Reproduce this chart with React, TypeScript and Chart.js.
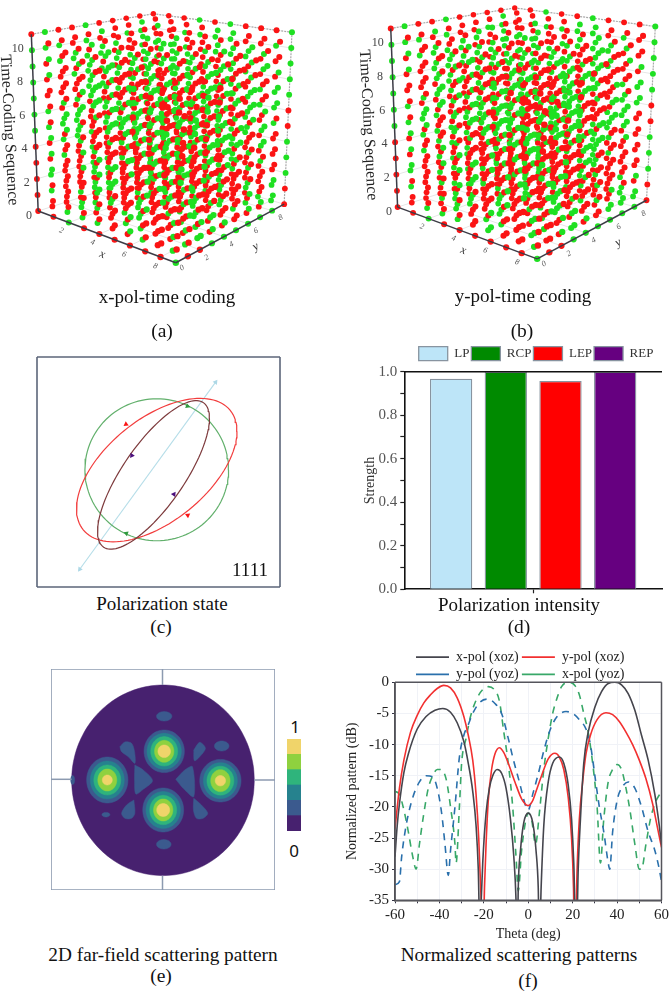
import React, { useEffect, useRef } from "react";
import { Chart, registerables } from "chart.js";

Chart.register(...registerables);

const SERIF = '"Liberation Serif"';

/* ---------- panels (a), (b): time-coding cube ---------- */
const gridX = [0, 1, 2, 3, 4, 5, 6, 7, 8, 9];
const gridY = [0, 1, 2, 3, 4, 5, 6, 7, 8, 9];
const timeSteps = [0, 1, 2, 3, 4, 5, 6, 7, 8, 9, 10, 11];
const timeTicks = [0, 2, 4, 6, 8, 10];
const planeTicks = [2, 4, 6, 8];
// one time sequence per meta-atom; R and G are the two coding states, from t = 0 upward
const timeCodes = [
  "RRRRRGGGGGGR",
  "RRGGGRRGGGGG",
  "GRRRRRGGRRRR",
  "RRRGGGRRRGGR",
  "GGGRRRRGGGRR",
  "RGGRRGGRRRGG",
  "RRRRGGRRGGRR",
  "GGRRRGGGRRGR",
];
const xPolCodeMap = [
  "0326365362",
  "5274102643",
  "3715240375",
  "6402735124",
  "1537062457",
  "4061527302",
  "2643170564",
  "7150634217",
  "3264251734",
  "6405316271",
];
const yPolCodeMap = [
  "0326365362",
  "5247120643",
  "3175240735",
  "6420735214",
  "1357062547",
  "4016527032",
  "2634170654",
  "7105634127",
  "3246251374",
  "6450316721",
];
const cubeCornersA = {
  bl: [35, 212], bf: [176, 265], br: [287, 205], bb: [166, 170],
  tl: [28, 31], tf: [185, 115], tr: [295, 29], tb: [153, 10],
};
const cubeCornersB = {
  bl: [59, 208], bf: [202, 261], br: [314, 201], bb: [190, 166],
  tl: [52, 25], tf: [210, 110], tr: [323, 23], tb: [179, 4],
};
const darkEdges = [
  [[0, 0, 0], [0, 0, 11]],
  [[0, 0, 0], [9, 0, 0]],
  [[9, 0, 0], [9, 9, 0]],
];
const dashedEdges = [
  [[0, 0, 11], [0, 9, 11]],
  [[0, 9, 11], [9, 9, 11]],
  [[9, 9, 11], [9, 9, 0]],
];
const faintEdges = [
  [[0, 0, 0], [0, 9, 0]], [[0, 9, 0], [9, 9, 0]], [[0, 9, 0], [0, 9, 11]],
  [[0, 0, 2], [0, 9, 2]], [[0, 9, 2], [9, 9, 2]],
  [[0, 0, 4], [0, 9, 4]], [[0, 9, 4], [9, 9, 4]],
  [[0, 0, 6], [0, 9, 6]], [[0, 9, 6], [9, 9, 6]],
  [[0, 0, 8], [0, 9, 8]], [[0, 9, 8], [9, 9, 8]],
  [[0, 0, 10], [0, 9, 10]], [[0, 9, 10], [9, 9, 10]],
  [[2, 0, 0], [2, 9, 0]], [[4, 0, 0], [4, 9, 0]], [[6, 0, 0], [6, 9, 0]], [[8, 0, 0], [8, 9, 0]],
  [[0, 2, 0], [9, 2, 0]], [[0, 4, 0], [9, 4, 0]], [[0, 6, 0], [9, 6, 0]], [[0, 8, 0], [9, 8, 0]],
];

/* ---------- panel (c): polarization ellipses ---------- */
const ellipseNames = ["RCP", "LEP", "REP"];
const ellipseColors = ["#62b06c", "#f23c3c", "#7d3a3c"];
const ellipseCenterX = [0, 0, -0.045];
const ellipseCenterY = [0, -0.005, -0.072];
const ellipseAmpX = [1, 1.117, 0.779];
const ellipseAmpY = [0.99, 1.0, 1.036];
const ellipsePhaseDeg = [90, 57.3, 40.4];
const lpLineX = [-1.072, 0.82];
const lpLineY = [-1.387, 1.221];
const lpRotation = [216, 36];
const rcpArrowX = [0.428, -0.423];
const rcpArrowY = [0.887, -0.887];
const rcpRotation = [110, 290];
const lepArrowX = [-0.428, 0.432];
const lepArrowY = [0.635, -0.635];
const lepRotation = [235, 55];
const repArrowX = [-0.347, 0.239];
const repArrowY = [0.198, -0.342];
const repRotation = [215, 35];

/* ---------- panel (d): polarization strength ---------- */
const strengthNames = ["LP", "RCP", "LEP", "REP"];
const strengthValues = [0.968, 1.0, 0.957, 1.0];
const strengthColors = ["#bde5f8", "#008a00", "#ff0000", "#660080"];

/* ---------- panel (e): far-field contour levels ---------- */
const levelColors = ["#47216f", "#3b5a8e", "#26828e", "#2fb47c", "#8fd13f", "#f0d46a"];
const levelBounds = [1, 1, 1, 1, 1, 1];
const discShape = { x: 0.5, y: -0.3, rx: 91.5, ry: 95.3 };
const islandEllipses = [
  [1.7, 63.7, 7.7, 4.7],
  [59.3, 34, 7.3, 5],
  [-56.7, -34.7, 4, 2.3],
  [1.3, -64.3, 7.3, 4.7],
  [-90, 0, 2, 4.5],
];
const islandPolygons = [
  [[-42.7, 33.3], [-37.7, 38], [-31, 36.7], [-28, 28.3], [-27.7, 16.7], [-34.3, 23.3], [-41, 28.3]],
  [[31.3, 30], [37.3, 37.7], [43, 31.7], [37.3, 23.3], [32, 19.3]],
  [[-27.7, 15], [-19.3, 10], [-10, -0.7], [-19.3, -9.3], [-26.7, -14], [-28, 0]],
  [[13.3, 0.7], [22.3, 10], [30, 13.3], [31.3, -16.7], [20.7, -8.3]],
  [[31.3, -18.3], [39, -25], [45.3, -33.3], [40.7, -38.3], [34, -38.3], [31, -30]],
  [[-28.7, -20], [-27.7, -33.3], [-31, -38.3], [-37.7, -38.3], [-41, -33.3], [-36, -25]],
];
const lobeCenterX = [1.7, -55.3, 58, 0.7];
const lobeCenterY = [28.7, 0, -0.7, -30];
const lobeRadiiX = [
  [20.2, 17.2, 13.5, 9.7, 6.3],
  [20.7, 17, 13.5, 9.5, 5],
  [20.7, 17, 13.5, 9.7, 5.2],
  [20.5, 17.2, 13.5, 9.7, 6.5],
];
const lobeRadiiY = [
  [21.3, 18, 14.7, 11, 6.3],
  [23, 19, 15, 11, 5],
  [21.3, 18, 14.5, 11, 5.2],
  [22, 18.5, 14.7, 11, 6.5],
];
const frameCrossX = [[0, 0], [0, 0], [-111.7, -91], [91.7, 112.7]];
const frameCrossY = [[111, 95], [-95.7, -110], [0.7, 0.7], [0, 0]];

/* ---------- panel (f): normalized patterns ---------- */
const patternNames = ["x-pol (xoz)", "y-pol (xoz)", "y-pol (yoz)", "x-pol (yoz)"];
const patternColors = ["#45454d", "#f23030", "#2a70ac", "#38a868"];
const thetaBlack = [-60, -59, -58, -56, -54, -50, -46, -42, -38.5, -35, -32, -29, -27, -25, -23.5, -22.5, -21.8, -21.5, -20.5, -19, -17.5, -16, -14, -12, -10, -8, -6.5, -5.5, -5.2, -4.8, -4.5, -3.5, -2, 0, 2, 3.5, 4.5, 4.9, 5.2, 5.8, 7, 9, 11, 14, 16, 18, 19.5, 20.5, 21.4, 21.8, 22.5, 23.5, 25, 27, 30, 33, 36, 39, 42, 45, 48, 51, 54, 57, 59, 60];
const patternBlack = [-28, -23, -19.5, -14.5, -11.5, -7.5, -5.5, -4.5, -4.2, -4.8, -6.5, -9.5, -13, -17.5, -23, -30, -40, -38, -29, -21, -17, -15, -14, -14.6, -17, -22, -28, -35, -40, -40, -33, -27, -22.5, -21, -22.5, -27, -33, -40, -40, -33, -23, -16, -13, -12, -13, -16.5, -22, -29, -40, -40, -30, -22, -13, -8, -4, -1.5, -0.2, 0, -0.4, -1.8, -4.5, -8.5, -12.5, -18, -23, -26];
const thetaRed = [-60, -58, -56, -53, -50, -47, -44, -41, -38, -35, -32, -29, -27, -25, -23.5, -22.3, -21.2, -20.8, -20.2, -19.7, -19, -18, -16.5, -15, -13, -11, -9, -6, -3, 0, 2, 4, 6, 9, 12, 14, 16, 18, 19.5, 20.4, 20.8, 21.3, 22, 23, 24.5, 26, 28, 31, 35, 38, 41, 44, 47, 50, 53, 56, 58, 60];
const patternRed = [-23.5, -17, -12.5, -8, -5.3, -3.3, -2, -1, -0.5, -0.9, -2.5, -5.5, -8.5, -12.5, -18, -25, -35, -40, -40, -33, -26, -19, -14, -11.5, -10.5, -11.3, -13, -16, -18.7, -19.8, -19, -17, -15, -12.3, -11.4, -12, -14, -18.5, -25, -33, -40, -40, -30, -22, -16, -11.5, -8.5, -6, -4.9, -5.2, -6.3, -8, -10, -12.5, -15.5, -19.5, -23, -26.5];
const thetaBlue = [-60, -58, -57, -55, -52, -49, -46, -43, -41, -39, -37.5, -36, -35, -33, -31, -29, -27, -25, -22, -18.5, -15, -12, -9, -7, -4, -1, 0, 2, 5, 7, 10, 13, 17, 20, 23, 26, 28, 30, 32, 34, 36, 36.7, 38, 40, 42, 45, 48, 51, 54, 57, 59, 60];
const patternBlue = [-32.5, -32, -28, -23, -18.5, -16, -15, -15.2, -17, -21, -26, -31, -27, -20, -12, -8.5, -6.8, -5, -3.3, -2.7, -3.4, -5, -9, -12, -16, -20, -20.5, -18, -14, -11, -7.5, -5.5, -4.7, -5, -6, -7.5, -10, -15, -20, -24, -29, -30, -24, -19, -17, -16, -17, -20, -24, -27, -30, -32];
const thetaGreen = [-60, -58, -56, -54, -52, -50.5, -49, -47, -45, -43, -41, -39.5, -37, -35, -33, -32.5, -31, -30, -28, -26, -23, -20, -18, -15, -13, -11, -9, -7, -5.5, -4.5, -3, -1, 0, 1.5, 3.3, 5, 7, 9, 11, 13, 15, 18, 21, 23, 25, 27, 29, 31, 32.5, 34, 36, 38, 40, 42, 44, 46, 48, 50, 51, 53, 55, 57, 60];
const patternGreen = [-17.5, -18, -20.5, -24, -28, -30, -26, -21, -17, -15, -14, -14, -15.5, -20, -26, -29, -20, -13, -9, -5.5, -2.5, -1, -0.7, -1.3, -3, -8, -13, -20, -28, -33.5, -27, -22, -21, -22, -26, -21, -14, -9, -5, -2.5, -0.7, 0, -0.5, -2, -5, -8, -13, -20, -29, -22, -16, -14, -13.2, -14, -17, -21, -26, -30, -30, -26, -22, -19.5, -17.5];

/* ---------- text placed on the page ---------- */
const captionTexts = [
  "x-pol-time coding", "(a)", "y-pol-time coding", "(b)", "Polarization state", "(c)",
  "Polarization intensity", "(d)", "2D far-field scattering pattern", "(e)",
  "Normalized scattering patterns", "(f)", "1111",
];
const captionX = [167, 162, 523, 522, 162, 161, 519, 519, 163, 161, 519, 528, 250];
const captionY = [297, 331, 296, 331, 604, 627, 605, 627, 955, 976, 955, 981, 570];
const captionSize = [19, 19.5, 19, 19.5, 19, 19.5, 19, 19.5, 19.3, 19.5, 19.3, 19.5, 19];

/* ---------- helpers ---------- */
const mix = (a: number[], b: number[], k: number) => [a[0] + (b[0] - a[0]) * k, a[1] + (b[1] - a[1]) * k];

function project(c: any, i: number, j: number, t: number) {
  const u = i / 9, v = j / 9, w = t / 11;
  const floor = mix(mix(c.bl, c.bf, u), mix(c.bb, c.br, u), v);
  const roof = mix(mix(c.tl, c.tf, u), mix(c.tb, c.tr, u), v);
  const p = mix(floor, roof, w);
  return { x: p[0], y: p[1] };
}

function cubeConfig(corners: any, codeMap: string[], titleX: number, titleY: number) {
  const cells: any[] = [];
  gridX.forEach((i) =>
    gridY.forEach((j) =>
      timeSteps.forEach((t) => {
        const code = timeCodes[Number(codeMap[j][i])][t];
        cells.push({ i, j, t, code, depth: i / 9 + 1 - j / 9 + 0.3 * (t / 11) });
      })
    )
  );
  cells.sort((a, b) => a.depth - b.depth);
  const segment = (s: number[][], color: string, width: number, order: number, dash: number[] = []) => ({
    type: "line",
    data: s.map((p) => project(corners, p[0], p[1], p[2])),
    borderColor: color,
    borderWidth: width,
    borderDash: dash,
    pointRadius: 0,
    order,
  });
  const datasets: any[] = [
    {
      type: "scatter",
      data: cells.map((c) => project(corners, c.i, c.j, c.t)),
      pointBackgroundColor: cells.map((c) => (c.code === "R" ? "#fb1414" : "#1fe022")),
      pointBorderWidth: 0,
      pointRadius: cells.map((c) => 2.6 + 0.3 * c.depth),
      order: 2,
    },
    ...darkEdges.map((s) => segment(s, "#3c3c46", 1.5, 0)),
    ...dashedEdges.map((s) => segment(s, "#a8a8a8", 1.2, 3, [2, 1])),
    ...faintEdges.map((s) => segment(s, "#e6e6e6", 1, 4)),
  ];
  const labels = {
    id: "cubeLabels",
    afterDraw(chart: any) {
      const ctx = chart.ctx;
      const put = (text: string, x: number, y: number, rot: number, font: string, color: string) => {
        ctx.save();
        ctx.translate(x, y);
        ctx.rotate((rot * Math.PI) / 180);
        ctx.font = font;
        ctx.fillStyle = color;
        ctx.textAlign = "center";
        ctx.textBaseline = "middle";
        ctx.fillText(text, 0, 0);
        ctx.restore();
      };
      timeTicks.forEach((t) => {
        const p = project(corners, 0, 0, t);
        put(String(t), p.x - 6 - 0.5 * t, p.y + 4 - 0.3 * t, 0, `12px ${SERIF}`, "#444");
      });
      planeTicks.forEach((n) => {
        const a = project(corners, n, 0, 0);
        put(String(n), a.x - 5, a.y + 7, 20, `italic 8px ${SERIF}`, "#555");
        const b = project(corners, 9, n, 0);
        put(String(n), b.x + 6, b.y + 6, -30, `italic 8px ${SERIF}`, "#555");
      });
      const o = project(corners, 9, 0, 0);
      put("0", o.x + 6, o.y + 3, -30, `italic 8px ${SERIF}`, "#555");
      const xm = project(corners, 5, 0, 0);
      put("x", xm.x - 11, xm.y + 13, 20, `italic 12px ${SERIF}`, "#333");
      const ym = project(corners, 9, 5, 0);
      put("y", ym.x + 18, ym.y + 15, -30, `italic 12px ${SERIF}`, "#333");
      put("Time-Coding Sequence", titleX, titleY, 87, `16px ${SERIF}`, "#222");
    },
  };
  return {
    data: { datasets },
    options: {
      responsive: false,
      animation: false,
      layout: { padding: 0 },
      plugins: { legend: { display: false }, tooltip: { enabled: false } },
      scales: {
        x: { type: "linear", min: 0, max: 336, display: false },
        y: { type: "linear", min: 0, max: 340, reverse: true, display: false },
      },
    },
    plugins: [labels],
  };
}

const frame = (color: string, width: number, sides = "tblr") => ({
  id: "frame",
  afterDraw(chart: any) {
    const { ctx, chartArea: a } = chart;
    ctx.save();
    ctx.strokeStyle = color;
    ctx.lineWidth = width;
    ctx.beginPath();
    if (sides.includes("t")) { ctx.moveTo(a.left, a.top); ctx.lineTo(a.right, a.top); }
    if (sides.includes("b")) { ctx.moveTo(a.left, a.bottom); ctx.lineTo(a.right, a.bottom); }
    if (sides.includes("l")) { ctx.moveTo(a.left, a.top); ctx.lineTo(a.left, a.bottom); }
    if (sides.includes("r")) { ctx.moveTo(a.right, a.top); ctx.lineTo(a.right, a.bottom); }
    ctx.stroke();
    ctx.restore();
  },
});

const legendPin = (height: number, left: number, top: number, width: number, wrapWidth?: number) => ({
  id: "legendPin",
  beforeInit(chart: any) {
    const l = chart.legend;
    const update = l.update.bind(l);
    l.update = (w: number, h: number, m: any) => {
      update(wrapWidth || w, h, m);
      l.height = height;
    };
  },
  afterLayout(chart: any) {
    const l = chart.legend;
    l.left = left;
    l.right = left + width;
    l.width = width;
    l.top = top;
    l.bottom = top + height;
  },
});

function polarizationConfig() {
  const turn = Array.from({ length: 121 }, (_, k) => (k * Math.PI) / 60);
  const ellipses = ellipseNames.map((name, n) => ({
    type: "line",
    label: name,
    data: turn.map((a) => ({
      x: ellipseCenterX[n] + ellipseAmpX[n] * Math.cos(a),
      y: ellipseCenterY[n] + ellipseAmpY[n] * Math.cos(a - (ellipsePhaseDeg[n] * Math.PI) / 180),
    })),
    borderColor: ellipseColors[n],
    borderWidth: 1.2,
    pointRadius: 0,
    order: 4 - n,
  }));
  const marks = (xs: number[], ys: number[], rot: number[], color: string, size: number) => ({
    type: "scatter",
    data: xs.map((x, k) => ({ x, y: ys[k] })),
    pointStyle: "triangle",
    pointRotation: rot,
    pointRadius: size,
    pointBackgroundColor: color,
    pointBorderWidth: 0,
    order: 0,
  });
  return {
    data: {
      datasets: [
        {
          type: "line",
          label: "LP",
          data: lpLineX.map((x, k) => ({ x, y: lpLineY[k] })),
          borderColor: "#b5dde8",
          borderWidth: 1.1,
          pointRadius: 0,
          order: 5,
        },
        ...ellipses,
        marks(lpLineX, lpLineY, lpRotation, "#add8e6", 3),
        marks(rcpArrowX, rcpArrowY, rcpRotation, "#2f9a3e", 3),
        marks(lepArrowX, lepArrowY, lepRotation, "#fb1414", 3),
        marks(repArrowX, repArrowY, repRotation, "#4b0f7d", 3),
      ],
    },
    options: {
      responsive: false,
      animation: false,
      plugins: { legend: { display: false }, tooltip: { enabled: false } },
      scales: {
        x: { type: "linear", min: -1.667, max: 1.716, display: false },
        y: { type: "linear", min: -1.635, max: 1.572, display: false },
      },
    },
    plugins: [frame("#5c667a", 1.6)],
  };
}

function strengthConfig() {
  return {
    type: "bar",
    data: {
      labels: [""],
      datasets: strengthNames.map((name, n) => ({
        label: name,
        data: [strengthValues[n]],
        backgroundColor: strengthColors[n],
        borderColor: "#8894a0",
        borderWidth: 1.3,
      })),
    },
    options: {
      responsive: false,
      animation: false,
      layout: { padding: { right: 10 } },
      categoryPercentage: 0.849,
      barPercentage: 0.774,
      plugins: {
        tooltip: { enabled: false },
        legend: {
          position: "top",
          align: "start",
          labels: { boxWidth: 29, boxHeight: 14, padding: 2, color: "#333", font: { family: SERIF, size: 13 } },
        },
      },
      scales: {
        x: {
          grid: { offset: false, drawOnChartArea: false, tickLength: 4, tickColor: "#222", tickWidth: 1.2 },
          border: { color: "#111", width: 1.6 },
          ticks: { display: false },
          afterFit: (s: any) => { s.height = 25.7; },
        },
        y: {
          min: 0,
          max: 1,
          grid: { drawOnChartArea: false, tickLength: 4, tickColor: "#222", tickWidth: 1.2 },
          border: { color: "#111", width: 1.6 },
          title: {
            display: true,
            text: "Strength",
            color: "#333",
            font: { family: SERIF, size: 14 },
            padding: { top: 26, bottom: 0 },
          },
          ticks: {
            stepSize: 0.1,
            autoSkip: false,
            color: "#555",
            padding: 3,
            font: { family: SERIF, size: 15 },
            callback: (v: number, i: number) => (i % 2 === 0 ? v.toFixed(1) : ""),
          },
          afterFit: (s: any) => { s.width = 68.3; },
        },
      },
    },
    plugins: [frame("#111", 1.6, "t"), legendPin(31.7, 80.7, 4.7, 320)],
  };
}

function ringPoints(cx: number, cy: number, rx: number, ry: number) {
  return Array.from({ length: 49 }, (_, k) => ({
    x: cx + rx * Math.cos((k * Math.PI) / 24),
    y: cy + ry * Math.sin((k * Math.PI) / 24),
  }));
}

function farFieldConfig() {
  const shapes: { pts: any[]; color: string }[] = [];
  shapes.push({ pts: ringPoints(discShape.x, discShape.y, discShape.rx, discShape.ry), color: levelColors[0] });
  islandEllipses.forEach((e) => shapes.push({ pts: ringPoints(e[0], e[1], e[2], e[3]), color: levelColors[1] }));
  islandPolygons.forEach((p) =>
    shapes.push({ pts: [...p, p[0]].map((q) => ({ x: q[0], y: q[1] })), color: levelColors[1] })
  );
  lobeCenterX.forEach((cx, n) =>
    lobeRadiiX[n].forEach((rx, lv) =>
      shapes.push({ pts: ringPoints(cx, lobeCenterY[n], rx, lobeRadiiY[n][lv]), color: levelColors[lv + 1] })
    )
  );
  const total = shapes.length;
  const datasets: any[] = shapes.map((s, k) => ({
    type: "line",
    data: s.pts,
    backgroundColor: s.color,
    borderColor: s.color,
    borderWidth: 0.5,
    fill: "shape",
    tension: 0.3,
    pointRadius: 0,
    order: total - k,
  }));
  frameCrossX.forEach((xs, k) =>
    datasets.push({
      type: "line",
      data: xs.map((x, m) => ({ x, y: frameCrossY[k][m] })),
      borderColor: "#8c9ab0",
      borderWidth: 1.5,
      pointRadius: 0,
      order: 0,
    })
  );
  return {
    data: { datasets },
    options: {
      responsive: false,
      animation: false,
      plugins: { legend: { display: false }, tooltip: { enabled: false } },
      scales: {
        x: { type: "linear", min: -111.7, max: 112.7, display: false },
        y: { type: "linear", min: -110, max: 111, display: false },
      },
    },
    plugins: [frame("#8c9ab0", 1.6)],
  };
}

function colorbarConfig() {
  return {
    type: "bar",
    data: {
      labels: [""],
      datasets: levelColors.map((c, n) => ({ data: [levelBounds[n]], backgroundColor: c, borderWidth: 0 })),
    },
    options: {
      responsive: false,
      animation: false,
      barPercentage: 1,
      categoryPercentage: 1,
      plugins: { legend: { display: false }, tooltip: { enabled: false } },
      scales: {
        x: { stacked: true, display: false },
        y: { stacked: true, min: 0, max: 6, display: false },
      },
    },
  };
}

function patternConfig() {
  const thetas = [thetaBlack, thetaRed, thetaBlue, thetaGreen];
  const values = [patternBlack, patternRed, patternBlue, patternGreen];
  const tickFont = { family: SERIF, size: 15 };
  return {
    type: "line",
    data: {
      datasets: patternNames.map((name, n) => ({
        label: name,
        data: thetas[n].map((x, k) => ({ x, y: values[n][k] })),
        borderColor: patternColors[n],
        backgroundColor: patternColors[n],
        borderWidth: 1.6,
        borderDash: n > 1 ? [7, 6] : [],
        pointRadius: 0,
        cubicInterpolationMode: "monotone",
      })),
    },
    options: {
      responsive: false,
      animation: false,
      layout: { padding: { right: 9.3 } },
      plugins: {
        tooltip: { enabled: false },
        legend: {
          position: "top",
          align: "start",
          labels: {
            usePointStyle: true,
            pointStyle: "line",
            pointStyleWidth: 33,
            padding: 3.3,
            color: "#222",
            font: { family: SERIF, size: 14 },
          },
        },
      },
      scales: {
        x: {
          type: "linear",
          min: -60,
          max: 60,
          grid: { color: "#f0f2f7", tickLength: 3, tickColor: "#334" },
          border: { color: "#444", width: 1.5 },
          title: {
            display: true,
            text: "Theta (deg)",
            color: "#222",
            font: { family: SERIF, size: 14 },
            padding: 0,
          },
          ticks: {
            stepSize: 10,
            autoSkip: false,
            maxRotation: 0,
            color: "#222",
            font: tickFont,
            padding: 3,
            callback: (v: number) => (v % 20 === 0 ? String(v) : ""),
          },
          afterFit: (s: any) => { s.height = 42.7; },
        },
        y: {
          type: "linear",
          min: -35,
          max: 0,
          grid: { color: "#f0f2f7", tickLength: 3, tickColor: "#334" },
          border: { color: "#444", width: 1.5 },
          title: {
            display: true,
            text: "Normalized pattern (dB)",
            color: "#222",
            font: { family: SERIF, size: 14 },
            padding: { top: 8, bottom: 0 },
          },
          ticks: { stepSize: 5, color: "#222", font: tickFont, padding: 3 },
          afterFit: (s: any) => { s.width = 59; },
        },
      },
    },
    plugins: [frame("#55555c", 1.5), legendPin(42.3, 76.7, 6.8, 216, 216)],
  };
}

function ChartPanel({ left, top, width, height, build }: any) {
  const ref = useRef<HTMLCanvasElement>(null);
  useEffect(() => {
    const chart = new Chart(ref.current as any, build());
    return () => chart.destroy();
  }, []);
  return (
    <canvas
      ref={ref}
      width={width}
      height={height}
      style={{ position: "absolute", left, top, width, height, display: "block" }}
    />
  );
}

export default function App() {
  return (
    <div
      style={{
        position: "absolute",
        left: 0,
        top: 0,
        width: 672,
        height: 992,
        overflow: "hidden",
        background: "#fff",
        fontFamily: SERIF,
      }}
    >
      <ChartPanel left={0} top={0} width={336} height={340} build={() => cubeConfig(cubeCornersA, xPolCodeMap, 9, 130)} />
      <ChartPanel left={336} top={0} width={336} height={340} build={() => cubeConfig(cubeCornersB, yPolCodeMap, 32, 125)} />
      <ChartPanel left={33} top={353} width={251} height={238} build={polarizationConfig} />
      <ChartPanel left={336} top={340} width={336} height={275} build={strengthConfig} />
      <ChartPanel left={51} top={669} width={224} height={221} build={farFieldConfig} />
      <ChartPanel left={287} top={739} width={14} height={92} build={colorbarConfig} />
      <ChartPanel left={336} top={640} width={336} height={303.4} build={patternConfig} />
      {captionTexts.map((t, k) => (
        <div
          key={k}
          style={{
            position: "absolute",
            left: captionX[k],
            top: captionY[k],
            transform: "translate(-50%,-50%)",
            whiteSpace: "nowrap",
            fontSize: captionSize[k],
            color: "#111",
          }}
        >
          {t}
        </div>
      ))}
      <div style={{ position: "absolute", left: 295, top: 726, transform: "translate(-50%,-50%)", fontFamily: '"Noto Sans"', fontSize: 17, color: "#111" }}>1</div>
      <div style={{ position: "absolute", left: 294, top: 850, transform: "translate(-50%,-50%)", fontFamily: '"Noto Sans"', fontSize: 17, color: "#111" }}>0</div>
    </div>
  );
}
